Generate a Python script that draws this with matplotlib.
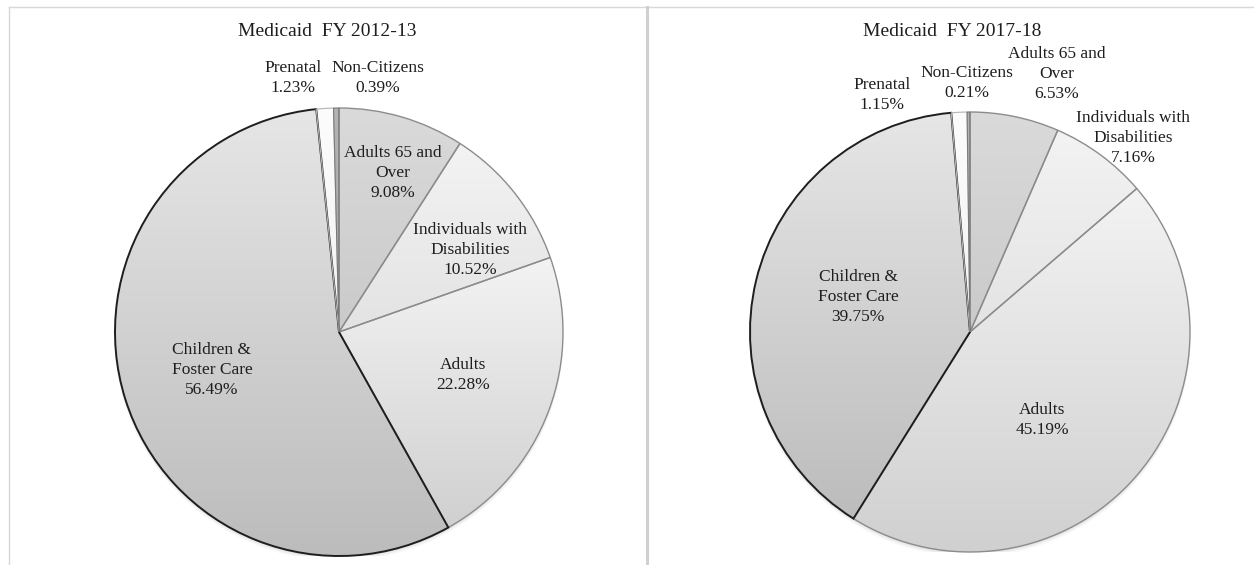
import matplotlib
matplotlib.use("Agg")
import matplotlib.pyplot as plt
from matplotlib.colors import LinearSegmentedColormap
from matplotlib.lines import Line2D
from matplotlib.patches import Circle
import numpy as np

plt.rcParams["font.family"] = "Liberation Serif"

groups = ["Adults 65 and\nOver", "Individuals with\nDisabilities", "Adults",
          "Children &\nFoster Care", "Prenatal", "Non-Citizens"]
share_1213 = [9.08, 10.52, 22.28, 56.49, 1.23, 0.39]
share_1718 = [6.53, 7.16, 45.19, 39.75, 1.15, 0.21]

# gradient (top, bottom) and outline per slice
shades = [("#dadada", "#cacaca"), ("#f3f3f3", "#e3e3e3"), ("#f3f3f3", "#d0d0d0"),
          ("#e6e6e6", "#bcbcbc"), ("#fcfcfc", "#f2f2f2"), ("#b4b4b4", "#a4a4a4")]
edges = ["#8c8c8c", "#8c8c8c", "#8c8c8c", "#1e1e1e", "#b4b4b4", "#7a7a7a"]
widths = [1.0, 1.0, 1.0, 1.4, 0.8, 0.8]

# label centres in pie units
pos_1213 = [(0.241, 0.710), (0.585, 0.366), (0.554, -0.192),
            (-0.567, -0.170), (-0.205, 1.134), (0.174, 1.134)]
pos_1718 = [(0.395, 1.173), (0.741, 0.882), (0.327, -0.400),
            (-0.509, 0.159), (-0.400, 1.077), (-0.014, 1.132)]

W, H = 1254, 565
fig = plt.figure(figsize=(W / 100, H / 100), dpi=100)


def px_axes(cx, cy, r):
    return fig.add_axes([(cx - r) / W, (H - cy - r) / H, 2 * r / W, 2 * r / H])


def draw_pie(ax, values, label_pos):
    for k, a in enumerate([0.10, 0.07, 0.04]):
        ax.add_patch(Circle((0, -0.006 * (k + 1)), 1.0 + 0.002 * k,
                            color="#555555", alpha=a, lw=0, zorder=0))
    wedges, _ = ax.pie(values, startangle=90, counterclock=False, radius=1)
    grad = np.linspace(0, 1, 256)[:, None]
    for w, (top, bot), ec, lw in zip(wedges, shades, edges, widths):
        x0, y0, x1, y1 = w.get_path().get_extents().extents
        cmap = LinearSegmentedColormap.from_list("g", [top, bot])
        im = ax.imshow(grad, cmap=cmap, extent=(x0, x1, y0, y1),
                       origin="upper", aspect="auto", zorder=1)
        im.set_clip_path(w)
        w.set_facecolor("none")
        w.set_edgecolor(ec)
        w.set_linewidth(lw)
        w.set_zorder(2)
    for name, v, (x, y) in zip(groups, values, label_pos):
        ax.text(x, y, f"{name}\n{v:.2f}%", ha="center", va="center",
                fontsize=12.5, color="#1e1e1e", linespacing=1.3,
                clip_on=False, zorder=3)
    ax.set_xlim(-1, 1)
    ax.set_ylim(-1, 1)
    ax.set_aspect("auto")
    ax.axis("off")


ax1 = px_axes(339, 332, 224)
draw_pie(ax1, share_1213, pos_1213)
ax2 = px_axes(970, 332, 220)
draw_pie(ax2, share_1718, pos_1718)

fig.text(327 / W, 1 - 32 / H, "Medicaid  FY 2012-13", ha="center", va="center",
         fontsize=14, color="#1e1e1e")
fig.text(952 / W, 1 - 32 / H, "Medicaid  FY 2017-18", ha="center", va="center",
         fontsize=14, color="#1e1e1e")

# panel frames
def fig_line(xs, ys, color, lw):
    fig.add_artist(Line2D([x / W for x in xs], [1 - y / H for y in ys],
                          color=color, lw=lw, transform=fig.transFigure))

fig_line([8.5, W], [6.5, 6.5], "#d8d8d8", 1.0)
fig_line([8.5, 8.5], [6.5, H], "#d8d8d8", 1.0)
fig_line([647, 647], [6.5, H], "#d0d0d0", 2.2)

fig.savefig("out.png", dpi=100)
